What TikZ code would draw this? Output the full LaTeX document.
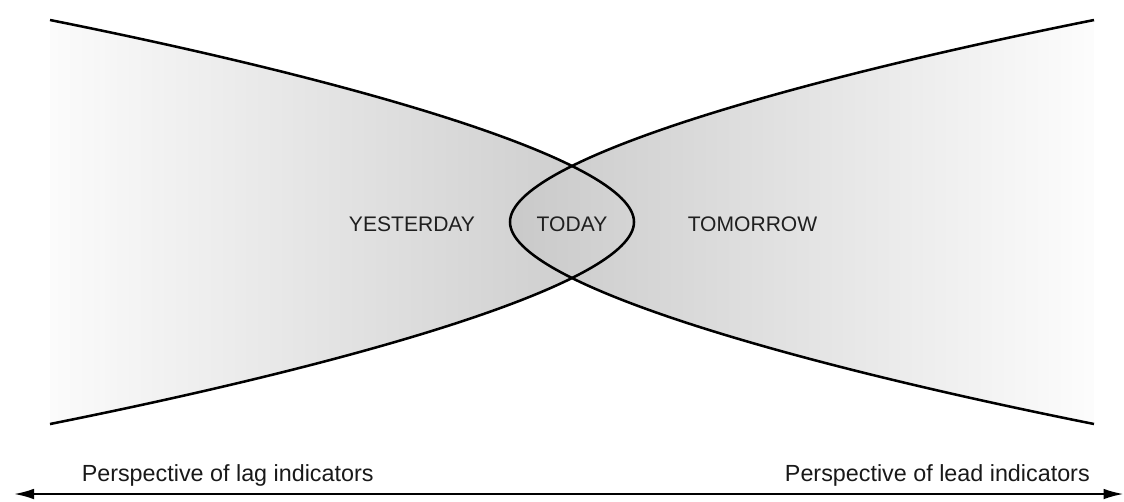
\documentclass[tikz,border=0pt]{standalone}
\usepackage{fontspec}
\setmainfont{Liberation Sans}
\usetikzlibrary{arrows.meta}
\begin{document}
\begin{tikzpicture}[x=0.75pt,y=-0.75pt,
  funnel/.style={line width=1.9pt, black},
  lbl/.style={font=\fontsize{15.8}{18}\selectfont, text=black!88, inner sep=0pt},
  persp/.style={font=\fontsize{17.5}{20}\selectfont, text=black!90, inner sep=0pt},
  axis/.style={line width=1.5pt, {Latex[length=15pt,width=8pt]}-{Latex[length=15pt,width=8pt]}}]
\useasboundingbox (0,0) rectangle (1124,501);
% fills
\shade[left color=gray!3, right color=gray!42]
  (50,20) .. controls (350,80) and (634,160) .. (634,222)
          .. controls (634,284) and (350,364) .. (50,424) -- cycle;
\shade[left color=gray!42, right color=gray!2]
  (1094,20) .. controls (794,80) and (510,160) .. (510,222)
            .. controls (510,284) and (794,364) .. (1094,424) -- cycle;
% outlines
\draw[funnel] (50,20) .. controls (350,80) and (634,160) .. (634,222)
              .. controls (634,284) and (350,364) .. (50,424);
\draw[funnel] (1094,20) .. controls (794,80) and (510,160) .. (510,222)
              .. controls (510,284) and (794,364) .. (1094,424);
% labels
\node[lbl] (yest) at (412,224) {YESTERDAY};
\node[lbl] (today) at (572,224) {TODAY};
\node[lbl] (tom) at (752.5,224) {TOMORROW};
\node[persp, anchor=base west] (lag) at (81.5,481.5) {Perspective of lag indicators};
\node[persp, anchor=base east] (lead) at (1090,481.5) {Perspective of lead indicators};
% axis
\coordinate (aL) at (14,494);
\coordinate (aR) at (1123.5,494);
\draw[axis] (aL) -- (aR);
\end{tikzpicture}
\end{document}
